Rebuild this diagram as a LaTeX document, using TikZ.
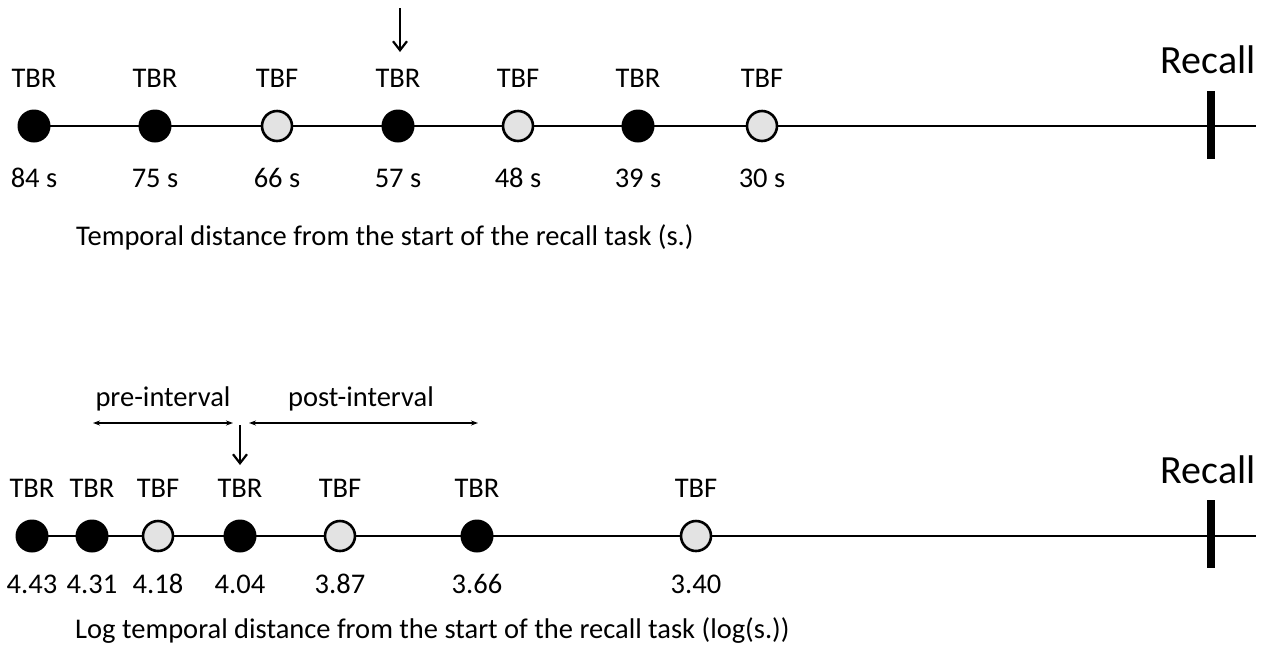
\documentclass[tikz,border=0pt]{standalone}
\usepackage{fontspec}
\setmainfont{Carlito}
\usetikzlibrary{arrows.meta}
\begin{document}
\begin{tikzpicture}[x=1pt,y=-1pt,
  axis/.style={line width=2pt},
  rem/.style={circle,fill=black,minimum size=33pt,inner sep=0pt},
  forg/.style={circle,fill=gray!22,draw=black,line width=2.6pt,minimum size=30pt,inner sep=0pt},
  lbl/.style={font=\fontsize{28.5}{32}\selectfont,inner sep=0pt,anchor=base},
  axcaption/.style={font=\fontsize{28.5}{32}\selectfont,inner sep=0pt,anchor=base west},
  rec/.style={font=\fontsize{40}{44}\selectfont,inner sep=0pt,anchor=base},
  bar/.style={line width=8.5pt},
  cue/.style={line width=2.2pt,-{Straight Barb[length=9pt,width=14pt,line width=2.2pt]}},
  span/.style={line width=1.3pt,{Stealth[length=7pt,width=5pt]}-{Stealth[length=7pt,width=5pt]}}]
\useasboundingbox (0,0) rectangle (1267,649);

% ---- linear time line ----
\coordinate (a1) at (1256,126);
\coordinate (rt) at (1211,91);
\coordinate (rb) at (1211,159);
\node[rec] (recA) at (1208,73) {Recall};

\foreach \x/\k/\t/\s [count=\i] in {34/rem/TBR/84, 155/rem/TBR/75, 277/forg/TBF/66, 398/rem/TBR/57, 518/forg/TBF/48, 638/rem/TBR/39, 762/forg/TBF/30}{
  \coordinate (pc\i) at (\x,126);
  \node[lbl] (pl\i) at (\x,87) {\t};
  \node[lbl] (ps\i) at (\x,187) {\s\ s};
}
\draw[axis] (pc1) -- (a1);
\draw[bar] (rt) -- (rb);
\foreach \x/\k [count=\i] in {34/rem, 155/rem, 277/forg, 398/rem, 518/forg, 638/rem, 762/forg}{
  \node[\k] (p\i) at (\x,126) {};
}
\coordinate (cueA) at (400,8);
\draw[cue] (cueA) -- (400,52);
\node[axcaption] (capA) at (76,245) {Temporal distance from the start of the recall task (s.)};

% ---- log time line ----
\coordinate (b1) at (1256,536);
\coordinate (st) at (1211,500);
\coordinate (sb) at (1211,568);
\node[rec] (recB) at (1208,483) {Recall};

\foreach \x/\k/\t/\s [count=\i] in {32/rem/TBR/4.43, 92/rem/TBR/4.31, 158/forg/TBF/4.18, 240/rem/TBR/4.04, 340/forg/TBF/3.87, 477/rem/TBR/3.66, 696/forg/TBF/3.40}{
  \coordinate (qc\i) at (\x,536);
  \node[lbl] (ql\i) at (\x,497) {\t};
  \node[lbl] (qs\i) at (\x,593) {\s};
}
\draw[axis] (qc1) -- (b1);
\draw[bar] (st) -- (sb);
\foreach \x/\k [count=\i] in {32/rem, 92/rem, 158/forg, 240/rem, 340/forg, 477/rem, 696/forg}{
  \node[\k] (q\i) at (\x,536) {};
}
\coordinate (cueB) at (240,425);
\draw[cue] (cueB) -- (240,465);

\coordinate (preL) at (93,423);
\coordinate (preR) at (233,423);
\coordinate (postL) at (249,423);
\coordinate (postR) at (478,423);
\draw[span] (preL) -- (preR);
\draw[span] (postL) -- (postR);
\node[lbl] (pre) at (163,406) {pre-interval};
\node[lbl] (post) at (361,406) {post-interval};

\node[axcaption] (capB) at (75,638) {Log temporal distance from the start of the recall task (log(s.))};
\end{tikzpicture}
\end{document}
